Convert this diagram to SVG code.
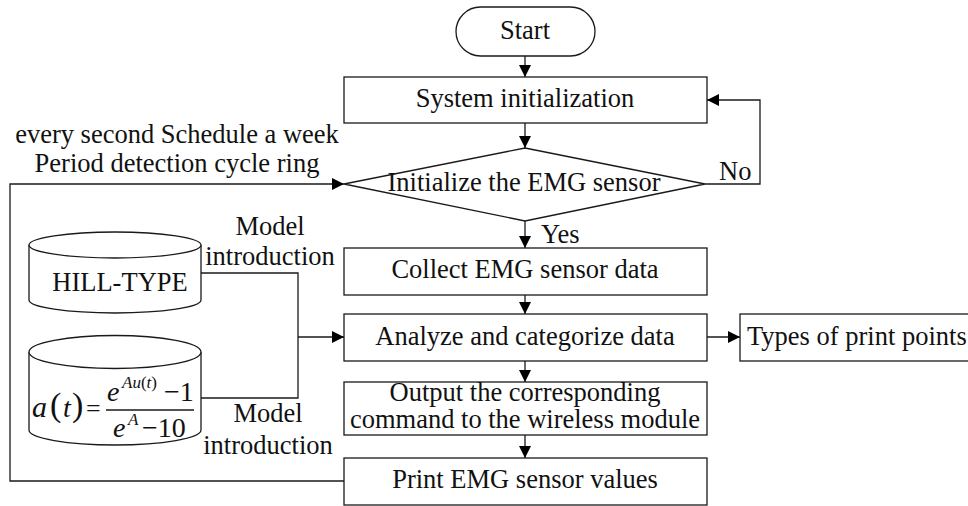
<svg xmlns="http://www.w3.org/2000/svg" width="968" height="506" viewBox="0 0 968 506">
  <defs>
    <style>
      .shape { fill: #fff; stroke: #1a1a1a; stroke-width: 1.3; }
      .line { fill: none; stroke: #1a1a1a; stroke-width: 1.3; }
      .t { font-family: "Liberation Serif", "Times New Roman", serif; font-size: 26.5px; fill: #111; }
      .c { text-anchor: middle; }
      .m { font-family: "Liberation Serif", "Times New Roman", serif; fill: #111; }
      .i { font-style: italic; }
    </style>
    <marker id="arrow" viewBox="0 0 12 12" refX="12" refY="6" markerWidth="12" markerHeight="12" markerUnits="userSpaceOnUse" orient="auto">
      <path d="M0,0 L12,6 L0,12 Z" fill="#000"/>
    </marker>
  </defs>

  <rect width="968" height="506" fill="#fff"/>

  <!-- connectors -->
  <g id="connectors">
    <path class="line" d="M525,56 V77" marker-end="url(#arrow)"/>
    <path class="line" d="M525,123 V148" marker-end="url(#arrow)"/>
    <path class="line" d="M705,184 H760 V100 H707" marker-end="url(#arrow)"/>
    <path class="line" d="M525,221 V248" marker-end="url(#arrow)"/>
    <path class="line" d="M525,295 V314" marker-end="url(#arrow)"/>
    <path class="line" d="M525,361 V382" marker-end="url(#arrow)"/>
    <path class="line" d="M525,435 V458" marker-end="url(#arrow)"/>
    <path class="line" d="M707,337 H740" marker-end="url(#arrow)"/>
    <path class="line" d="M344,481 H10 V184 H344" marker-end="url(#arrow)"/>
    <path class="line" d="M201,273 H298 V398 H201"/>
    <path class="line" d="M298,337 H344" marker-end="url(#arrow)"/>
    <text class="t" x="541" y="243">Yes</text>
    <text class="t" x="719" y="180">No</text>
    <text class="t c" x="177" y="143">every second Schedule a week</text>
    <text class="t c" x="177" y="172">Period detection cycle ring</text>
    <text class="t c" x="270" y="235">Model</text>
    <text class="t c" x="270" y="265">introduction</text>
    <text class="t c" x="268" y="422">Model</text>
    <text class="t c" x="268" y="454">introduction</text>
  </g>

  <!-- start terminator -->
  <g id="start">
    <rect class="shape" x="456" y="7" width="139" height="49" rx="24.5" ry="24.5"/>
    <text class="t c" x="525" y="39">Start</text>
  </g>

  <g id="system-init">
    <rect class="shape" x="344" y="77" width="363" height="46"/>
    <text class="t c" x="525" y="107">System initialization</text>
  </g>

  <g id="init-sensor">
    <polygon class="shape" points="525,148 705,184 525,221 344,184"/>
    <text class="t c" x="524" y="191">Initialize the EMG sensor</text>
  </g>

  <g id="collect">
    <rect class="shape" x="344" y="248" width="363" height="47"/>
    <text class="t c" x="525" y="278">Collect EMG sensor data</text>
  </g>

  <g id="analyze">
    <rect class="shape" x="344" y="314" width="363" height="47"/>
    <text class="t c" x="525" y="345">Analyze and categorize data</text>
  </g>

  <g id="types">
    <rect class="shape" x="740" y="314" width="240" height="47"/>
    <text class="t" x="747" y="345">Types of print points</text>
  </g>

  <g id="output">
    <rect class="shape" x="344" y="382" width="363" height="53"/>
    <text class="t c" x="525" y="401" font-size="24">Output the corresponding</text>
    <text class="t c" x="525" y="428" font-size="24" textLength="350" lengthAdjust="spacingAndGlyphs">command to the wireless module</text>
  </g>

  <g id="print">
    <rect class="shape" x="344" y="458" width="363" height="47"/>
    <text class="t c" x="525" y="488">Print EMG sensor values</text>
  </g>

  <!-- model stores -->
  <g id="hill-type">
    <path class="shape" d="M29,245 V300 A86,13 0 0 0 201,300 V245"/>
    <ellipse class="shape" cx="115" cy="245" rx="86" ry="13"/>
    <text class="t c" x="120" y="291">HILL-TYPE</text>
  </g>

  <g id="activation-model">
    <path class="shape" d="M29,352 V430 A86,15 0 0 0 201,430 V352"/>
    <ellipse class="shape" cx="115" cy="352" rx="86" ry="16.5"/>
    <text class="m i" x="32" y="417" font-size="30">a</text>
    <text class="m" x="50" y="416" font-size="34">(</text>
    <text class="m i" x="63" y="417" font-size="28">t</text>
    <text class="m" x="72" y="416" font-size="34">)</text>
    <text class="m" x="86" y="417" font-size="26">=</text>
    <text class="m i" x="107" y="401" font-size="28">e</text>
    <text class="m i" x="122" y="388" font-size="17">Au<tspan font-style="normal">(</tspan>t<tspan font-style="normal">)</tspan></text>
    <text class="m" x="164" y="401" font-size="28">−1</text>
    <line class="line" x1="106" y1="410" x2="194" y2="410"/>
    <text class="m i" x="113" y="437" font-size="28">e</text>
    <text class="m i" x="128" y="425" font-size="17">A</text>
    <text class="m" x="142" y="437" font-size="28">−10</text>
  </g>
</svg>
